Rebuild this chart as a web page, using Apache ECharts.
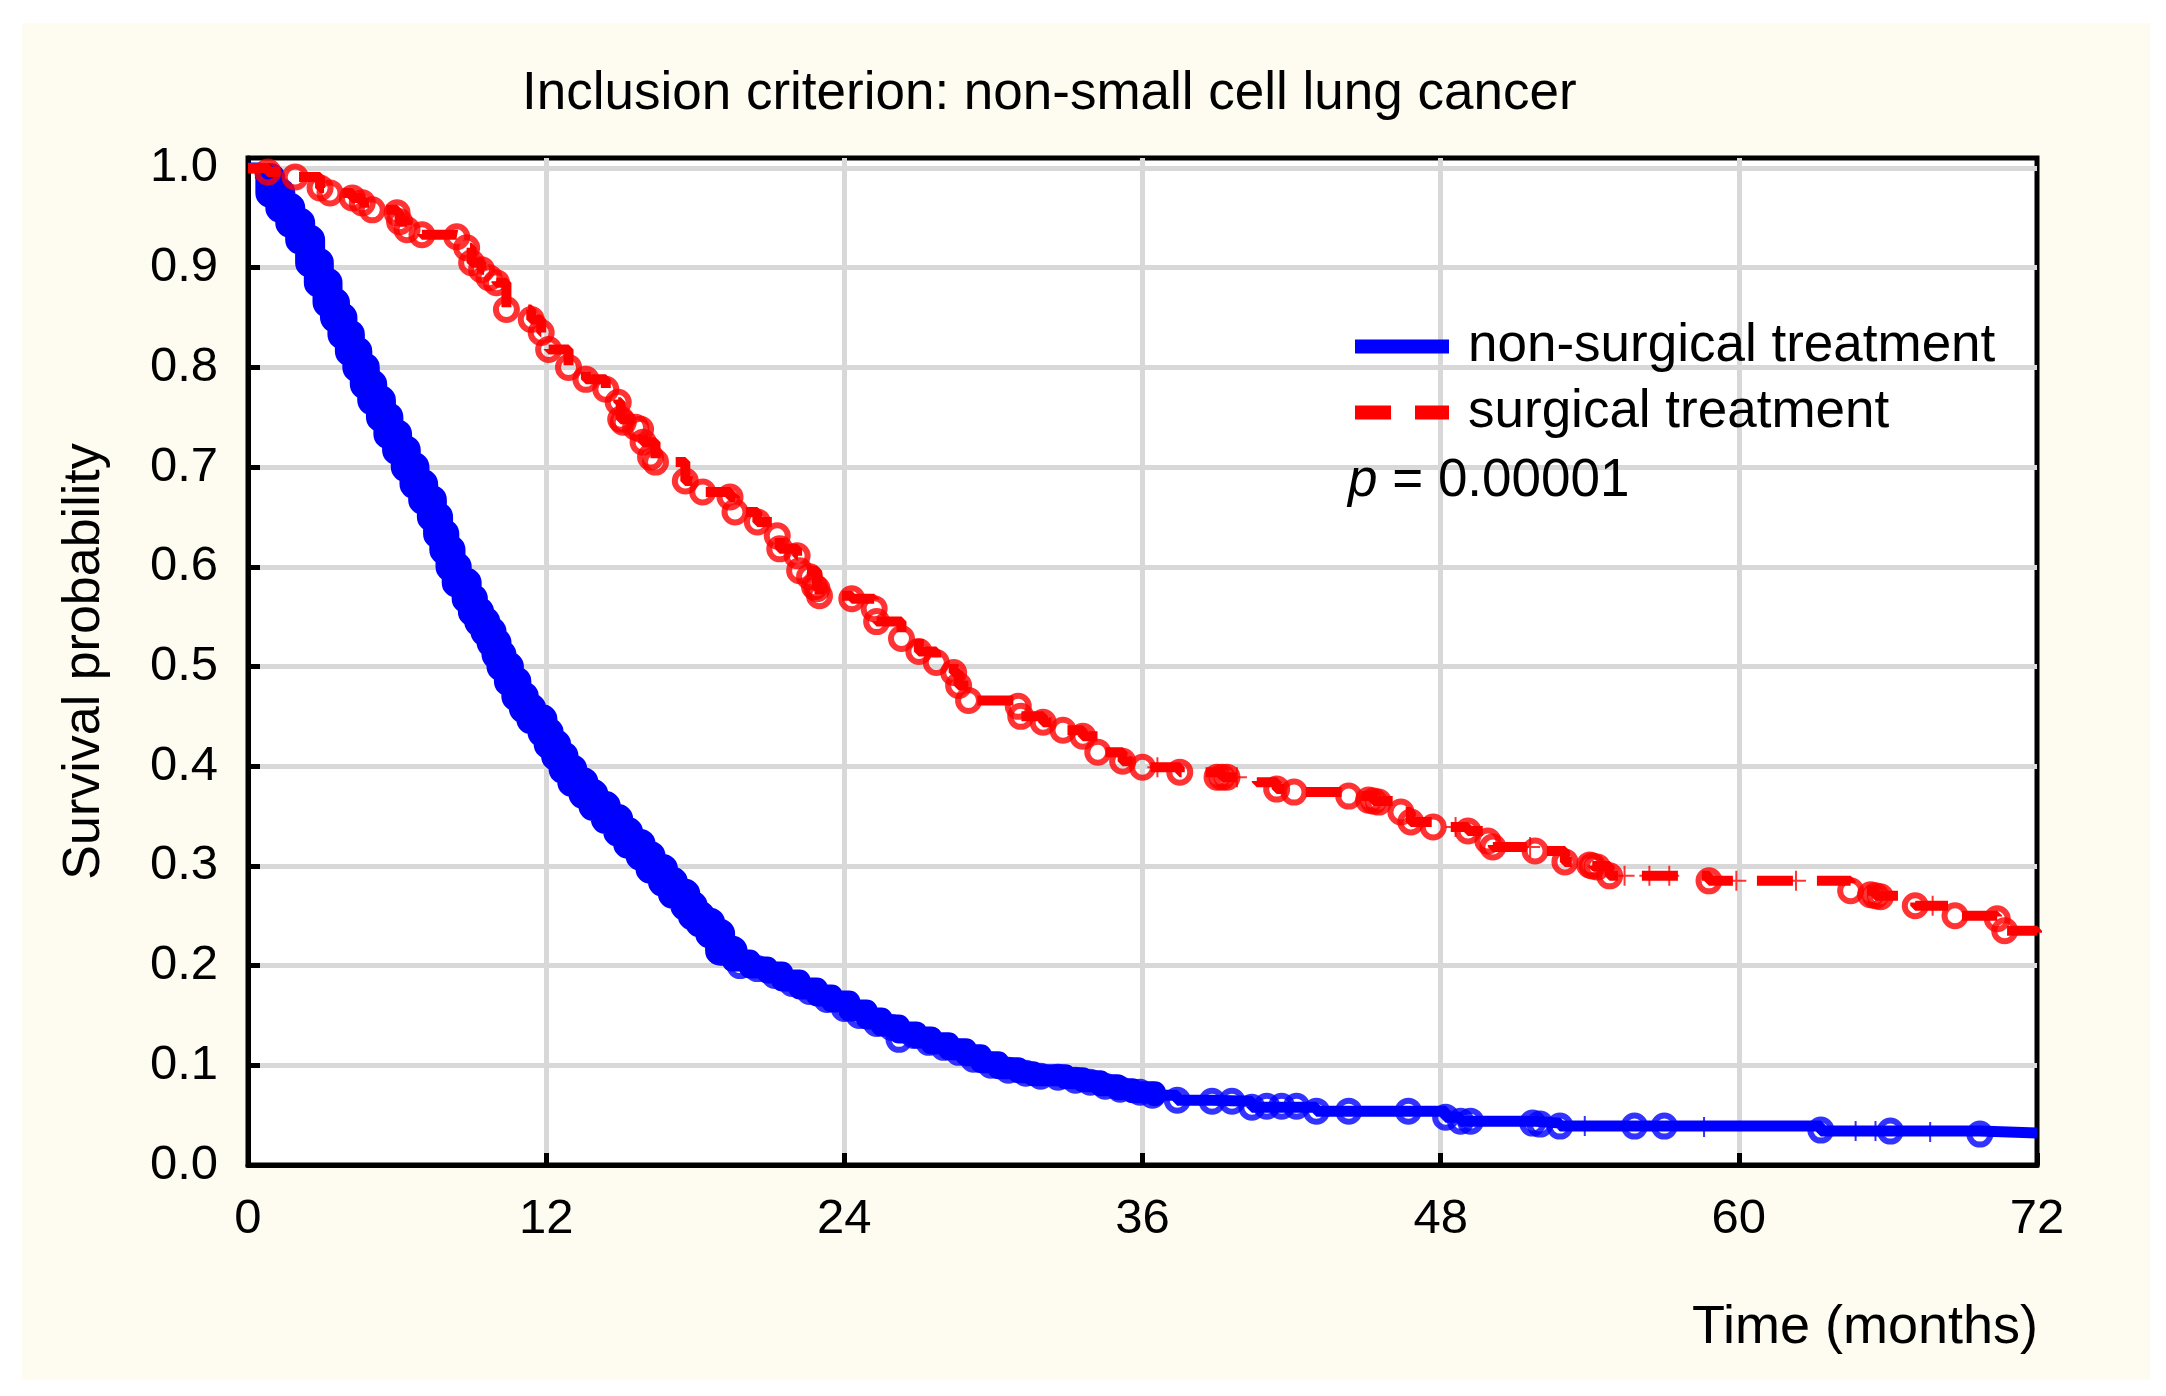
<!DOCTYPE html>
<html>
<head>
<meta charset="utf-8">
<script src="https://cdn.jsdelivr.net/npm/echarts@6/dist/echarts.min.js"></script>
<style>
html,body{margin:0;padding:0;background:#fff;}
#chart{width:2166px;height:1396px;}
</style>
</head>
<body>
<div id="chart"></div>
<script>
// ---- data (time in months, survival probability) ----
const titleText = 'Inclusion criterion: non-small cell lung cancer';
const seriesNames = ['non-surgical treatment', 'surgical treatment'];
const xTicks = [0, 12, 24, 36, 48, 60, 72];
const yTicks = [0, 0.1, 0.2, 0.3, 0.4, 0.5, 0.6, 0.7, 0.8, 0.9, 1.0];
const pValueText = '0.00001';

const blueCurve = [
  [0,1],[0.5,0.99],[0.9,0.975],[1.3,0.96],[1.7,0.945],[2.1,0.928],[2.5,0.905],[2.85,0.885],
  [3.2,0.865],[3.5,0.85],[3.8,0.833],[4.1,0.816],[4.4,0.8],[4.7,0.783],[5.0,0.767],[5.35,0.75],
  [5.65,0.733],[6.0,0.717],[6.35,0.7],[6.7,0.683],[7.05,0.667],[7.4,0.65],[7.65,0.633],[7.9,0.617],
  [8.15,0.6],[8.4,0.584],[8.8,0.568],[9.05,0.555],[9.3,0.545],[9.55,0.535],[9.8,0.524],[10.0,0.512],
  [10.2,0.5],[10.5,0.485],[10.8,0.47],[11.1,0.458],[11.4,0.447],[11.85,0.434],[12.1,0.422],[12.4,0.41],
  [12.7,0.397],[13.05,0.384],[13.5,0.372],[13.9,0.36],[14.4,0.347],[14.9,0.334],[15.3,0.322],[15.8,0.31],
  [16.2,0.297],[16.7,0.284],[17.1,0.272],[17.6,0.26],[17.9,0.25],[18.2,0.243],[18.6,0.232],[19.0,0.215],
  [19.5,0.205],[20.2,0.198],[20.9,0.193],[21.5,0.185],[22.2,0.177],[22.9,0.17],[23.5,0.164],[24.2,0.155],
  [24.9,0.147],[25.5,0.14],[26.2,0.133],[26.9,0.128],[27.5,0.122],[28.2,0.116],[28.9,0.11],[29.5,0.103],
  [30.2,0.097],[31.0,0.093],[31.6,0.09],[32.9,0.087],[33.6,0.084],[34.3,0.08],[35.0,0.076],[35.6,0.073],
  [36.5,0.07],[37.4,0.065],[38.8,0.064],[40.4,0.058],[43.0,0.054],[48.2,0.048],[48.8,0.044],[51.7,0.042],
  [52.8,0.039],[63.3,0.034],[69.7,0.032],[72,0.032]
];
const blueCensor = [
  [19.8,0.2],[20.5,0.197],[21.2,0.19],[21.9,0.182],[22.6,0.174],[23.3,0.166],[24.0,0.157],[24.6,0.15],
  [25.3,0.142],[25.9,0.138],[26.2,0.126],[26.8,0.13],[27.4,0.123],[28.0,0.118],[28.6,0.113],[29.2,0.106],
  [29.9,0.1],[30.6,0.095],[31.3,0.092],[31.9,0.089],[32.6,0.088],[33.3,0.085],[33.9,0.083],[34.5,0.079],
  [35.1,0.076],[35.9,0.073],[36.4,0.07],[37.4,0.065],[38.8,0.064],[39.6,0.064],[40.4,0.058],[41.0,0.059],
  [41.6,0.059],[42.2,0.059],[43.0,0.054],[44.3,0.054],[46.7,0.054],[48.2,0.048],[48.8,0.044],[49.2,0.044],
  [51.7,0.042],[52.0,0.041],[52.8,0.039],[55.8,0.039],[57.0,0.039],[63.3,0.035],[66.1,0.034],[69.7,0.031]
];
const blueCross = [[53.8,0.039],[58.6,0.038],[64.7,0.034],[65.5,0.034],[67.7,0.033]];

const redCurve = [
  [0,1],[0.8,0.996],[1.9,0.991],[2.9,0.98],[3.3,0.975],[4.2,0.97],[4.6,0.965],[5.0,0.958],[6.0,0.955],
  [6.1,0.946],[6.4,0.938],[7.0,0.933],[8.4,0.931],[8.8,0.92],[9.0,0.905],[9.4,0.898],[10.0,0.885],
  [10.4,0.858],[11.4,0.848],[11.8,0.835],[12.1,0.818],[12.9,0.8],[13.6,0.788],[14.4,0.778],[14.9,0.765],
  [15.0,0.748],[15.8,0.738],[15.9,0.725],[16.4,0.705],[17.6,0.686],[18.3,0.675],[19.4,0.67],[19.6,0.655],
  [20.5,0.645],[21.3,0.631],[21.4,0.618],[22.1,0.611],[22.2,0.596],[22.9,0.578],[23.0,0.571],[24.3,0.568],
  [25.2,0.558],[25.3,0.545],[26.3,0.528],[27.0,0.515],[27.7,0.504],[28.4,0.494],[28.6,0.481],[29.0,0.466],
  [31.0,0.46],[31.1,0.45],[32.0,0.444],[32.8,0.436],[33.6,0.43],[34.2,0.414],[35.2,0.405],[36.0,0.399],
  [37.5,0.394],[39.2,0.389],[40.6,0.384],[41.4,0.377],[42.1,0.374],[44.3,0.37],[45.3,0.365],[46.4,0.354],
  [46.8,0.344],[47.7,0.339],[49.1,0.335],[49.9,0.325],[50.1,0.319],[51.8,0.315],[53.0,0.304],[54.1,0.3],
  [54.8,0.29],[58.8,0.285],[64.5,0.275],[65.5,0.27],[67.1,0.26],[68.7,0.25],[70.4,0.247],[70.7,0.235],
  [72,0.233]
];
const redCensor = [
  [0.8,0.996],[1.9,0.991],[2.9,0.98],[3.3,0.975],[4.2,0.97],[4.6,0.965],[5.0,0.958],[6.0,0.955],
  [6.1,0.946],[6.4,0.938],[7.0,0.933],[8.4,0.931],[8.8,0.92],[9.0,0.905],[9.4,0.898],[9.7,0.89],
  [10.0,0.885],[10.4,0.858],[11.4,0.848],[11.8,0.835],[12.1,0.818],[12.9,0.8],[13.6,0.788],[14.4,0.778],
  [14.9,0.765],[15.0,0.748],[15.1,0.745],[15.6,0.74],[15.8,0.738],[15.9,0.725],[16.2,0.71],[16.4,0.705],
  [17.6,0.686],[18.3,0.675],[19.4,0.67],[19.6,0.655],[20.5,0.645],[21.3,0.631],[21.4,0.618],[22.1,0.611],
  [22.2,0.596],[22.6,0.59],[22.8,0.58],[22.9,0.578],[23.0,0.571],[24.3,0.568],[25.2,0.558],[25.3,0.545],
  [26.3,0.528],[27.0,0.515],[27.7,0.504],[28.4,0.494],[28.6,0.481],[29.0,0.466],[31.0,0.46],[31.1,0.45],
  [32.0,0.444],[32.8,0.436],[33.6,0.43],[34.2,0.414],[35.2,0.405],[36.0,0.399],[37.5,0.394],[39.0,0.389],
  [39.2,0.389],[39.4,0.389],[41.4,0.377],[42.1,0.374],[44.3,0.37],[45.1,0.366],[45.3,0.365],[45.5,0.364],
  [46.4,0.354],[46.8,0.344],[47.7,0.339],[49.1,0.335],[49.9,0.325],[50.1,0.319],[51.8,0.315],[53.0,0.304],
  [54.0,0.301],[54.1,0.3],[54.3,0.299],[54.8,0.29],[58.8,0.285],[64.5,0.275],[65.3,0.271],[65.5,0.27],
  [65.7,0.269],[67.1,0.26],[68.7,0.25],[70.4,0.247],[70.7,0.235]
];
const redCross = [[36.6,0.399],[39.8,0.389],[48.6,0.339],[51.6,0.319],[55.4,0.29],[56.4,0.29],[57.2,0.29],[59.9,0.285],[62.3,0.285],[67.8,0.26]];

// ---- styling ----
const FONT = "'Liberation Sans', Arial, sans-serif";
const BLUE = '#0000ff', RED = '#ff0000';
const CROSS = 'path://M10,0 L10,20 M0,10 L20,10';
const bandEarly = 19.6;
const bandLate = 36.5;

const chart = echarts.init(document.getElementById('chart'), null, {renderer: 'canvas'});
chart.setOption({
  animation: false,
  backgroundColor: '#ffffff',
  textStyle: {fontFamily: FONT},
  title: {
    text: titleText, left: 517, top: 63, padding: 5,
    textStyle: {fontSize: 53, fontWeight: 'normal', color: '#000', fontFamily: FONT}
  },
  graphic: [
    {type: 'rect', z: -10, silent: true, shape: {x: 22, y: 23, width: 2128, height: 1357}, style: {fill: '#fefbf0'}},
    {type: 'text', z: 10, left: 1348, top: 455, style: {
      text: '{i|p} = ' + pValueText, fill: '#000', font: '53px ' + FONT,
      rich: {i: {fontStyle: 'italic', fontSize: 53, fontFamily: FONT, fill: '#000'}}
    }},
    {type: 'text', z: 10, right: 2166 - 2038, top: 1301, style: {
      text: 'Time (months)', fill: '#000', font: '54px ' + FONT
    }}
  ],
  legend: {
    orient: 'vertical', left: 1348, top: 320, padding: 0,
    itemWidth: 94, itemHeight: 14, itemGap: 13,
    data: seriesNames,
    textStyle: {fontSize: 53, color: '#000', fontFamily: FONT, padding: [0, 0, 0, 14]},
    lineStyle: {width: 14},
    itemStyle: {opacity: 0}
  },
  grid: {
    left: 248, right: 2166 - 2037, top: 158, bottom: 1396 - 1165,
    show: true, backgroundColor: '#ffffff', borderColor: '#000', borderWidth: 5,
    containLabel: false
  },
  xAxis: {
    type: 'value', min: 0, max: 72, interval: 12,
    axisLine: {show: true, onZero: false, lineStyle: {color: '#000', width: 5}},
    axisTick: {show: true, inside: true, length: 12, lineStyle: {color: '#000', width: 5}},
    axisLabel: {fontSize: 49, color: '#000', margin: 30, fontFamily: FONT,
      formatter: v => xTicks.indexOf(v) >= 0 ? String(v) : ''},
    splitLine: {show: true, showMinLine: false, showMaxLine: false, lineStyle: {color: '#d8d8d8', width: 5}}
  },
  yAxis: {
    type: 'value', min: 0, max: 1.01, interval: 0.1,
    name: 'Survival probability', nameLocation: 'middle', nameGap: 137, nameRotate: 90,
    nameTextStyle: {fontSize: 52, color: '#000', fontFamily: FONT},
    axisLine: {show: true, onZero: false, lineStyle: {color: '#000', width: 5}},
    axisTick: {show: true, inside: true, length: 12, lineStyle: {color: '#000', width: 5}},
    axisLabel: {fontSize: 49, color: '#000', margin: 30, fontFamily: FONT, showMaxLabel: false,
      formatter: v => {
        const hit = yTicks.find(t => Math.abs(t - v) < 1e-6);
        return hit === undefined ? '' : hit.toFixed(1);
      }},
    splitLine: {show: true, showMinLine: false, showMaxLine: false, lineStyle: {color: '#d8d8d8', width: 5}}
  },
  series: [
    {
      name: seriesNames[0], type: 'line', step: 'end', data: blueCurve,
      symbol: 'none', z: 3,
      lineStyle: {color: BLUE, width: 11}, itemStyle: {color: BLUE}
    },
    {
      name: 'censored (non-surgical, dense early)', type: 'line', step: 'end',
      data: blueCurve.filter(p => p[0] >= 0.5 && p[0] <= bandEarly),
      symbol: 'none', z: 3, silent: true,
      lineStyle: {color: BLUE, width: 30, join: 'round', cap: 'butt'}
    },
    {
      name: 'censored (non-surgical, dense late)', type: 'line', step: 'end',
      data: blueCurve.filter(p => p[0] >= bandEarly - 0.5 && p[0] <= bandLate),
      symbol: 'none', z: 3, silent: true,
      lineStyle: {color: BLUE, width: 22, join: 'round', cap: 'round'}
    },
    {
      name: 'censored (non-surgical)', type: 'scatter', data: blueCensor, z: 4,
      symbol: 'circle', symbolSize: 21,
      itemStyle: {color: 'rgba(0,0,0,0)', borderColor: BLUE, borderWidth: 6}
    },
    {
      name: 'censored + (non-surgical)', type: 'scatter', data: blueCross, z: 4,
      symbol: CROSS, symbolSize: 20,
      itemStyle: {color: 'none', borderColor: BLUE, borderWidth: 2}
    },
    {
      name: seriesNames[1], type: 'line', step: 'end', data: redCurve,
      symbol: 'none', z: 5,
      lineStyle: {color: RED, width: 10, type: [36, 24]}, itemStyle: {color: RED}
    },
    {
      name: 'censored (surgical)', type: 'scatter', data: redCensor, z: 6,
      symbol: 'circle', symbolSize: 21,
      itemStyle: {color: 'rgba(0,0,0,0)', borderColor: RED, borderWidth: 6}
    },
    {
      name: 'censored + (surgical)', type: 'scatter', data: redCross, z: 6,
      symbol: CROSS, symbolSize: 20,
      itemStyle: {color: 'none', borderColor: RED, borderWidth: 2}
    }
  ]
});
</script>
</body>
</html>
